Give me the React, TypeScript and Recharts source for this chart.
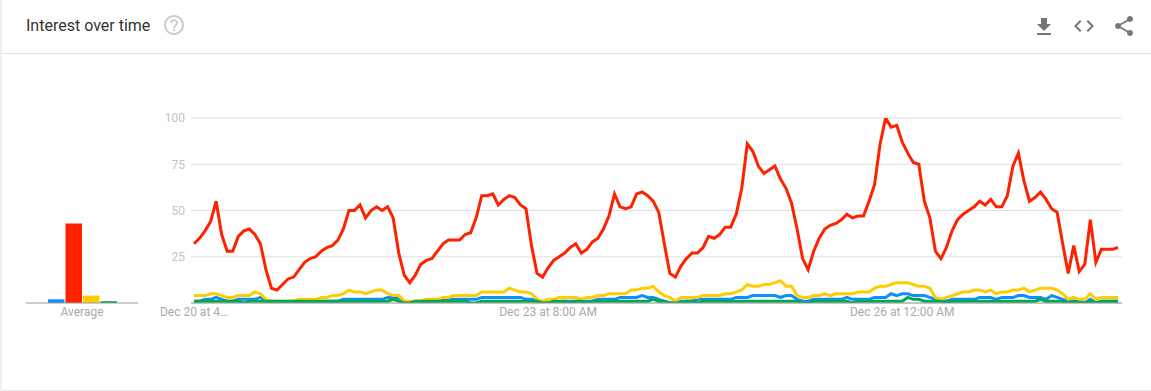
import { LineChart, Line, BarChart, Bar, XAxis, YAxis, CartesianGrid } from "recharts"

// hourly samples
const red = [
  32, 35, 39, 44, 55, 37, 28, 28, 36, 39,
  40, 37, 32, 18, 8, 7, 10, 13, 14, 18,
  22, 24, 25, 28, 30, 31, 34, 40, 50, 50,
  53, 46, 50, 52, 50, 52, 46, 27, 15, 11,
  15, 21, 23, 24, 28, 32, 34, 34, 34, 37,
  38, 46, 58, 58, 59, 53, 56, 58, 57, 53,
  51, 31, 16, 14, 19, 23, 25, 27, 30, 32,
  27, 29, 33, 35, 40, 47, 59, 52, 51, 52,
  59, 60, 58, 55, 49, 32, 16, 14, 20, 24,
  27, 27, 30, 36, 35, 37, 41, 41, 48, 62,
  86, 82, 74, 70, 72, 74, 67, 62, 54, 40,
  24, 18, 28, 35, 40, 42, 43, 45, 48, 46,
  47, 47, 55, 64, 86, 100, 95, 96, 87, 81,
  76, 75, 55, 46, 28, 24, 30, 39, 45, 48,
  50, 52, 55, 53, 56, 52, 52, 58, 74, 81,
  66, 55, 57, 60, 56, 51, 49, 32, 16, 31,
  17, 21, 45, 22, 29, 29, 29, 30,
]

const yellow = [
  4, 4, 4, 5, 5, 4, 3, 3, 4, 4,
  4, 6, 5, 2, 1, 1, 1, 1, 1, 2,
  2, 2, 2, 3, 3, 4, 4, 5, 7, 6,
  6, 5, 6, 7, 7, 5, 4, 4, 1, 1,
  1, 1, 2, 2, 2, 3, 3, 4, 4, 4,
  4, 4, 6, 6, 6, 6, 6, 8, 7, 6,
  6, 5, 2, 1, 2, 2, 3, 3, 3, 3,
  2, 3, 3, 4, 4, 5, 5, 5, 5, 7,
  7, 8, 8, 9, 6, 4, 3, 1, 3, 3,
  3, 3, 4, 4, 4, 4, 5, 5, 6, 7,
  10, 9, 9, 10, 10, 11, 12, 9, 9, 4,
  3, 3, 4, 4, 5, 4, 5, 5, 5, 5,
  6, 6, 6, 8, 9, 9, 10, 11, 11, 11,
  10, 9, 9, 8, 3, 2, 3, 4, 5, 6,
  6, 7, 7, 6, 7, 5, 6, 6, 7, 7,
  8, 6, 7, 8, 8, 8, 7, 5, 2, 3,
  2, 2, 5, 2, 3, 3, 3, 3,
]

const blue = [
  1, 1, 2, 2, 3, 2, 1, 1, 2, 2,
  2, 2, 3, 1, 1, 0, 0, 0, 0, 1,
  1, 1, 1, 1, 1, 1, 1, 2, 2, 2,
  2, 2, 2, 2, 2, 3, 3, 3, 0, 0,
  0, 0, 1, 1, 1, 2, 2, 2, 2, 2,
  2, 2, 3, 3, 3, 3, 3, 3, 3, 3,
  2, 2, 1, 1, 0, 0, 0, 1, 1, 1,
  1, 1, 1, 2, 2, 2, 2, 3, 3, 3,
  3, 4, 3, 3, 2, 1, 0, 0, 1, 1,
  1, 2, 2, 2, 2, 2, 2, 2, 3, 3,
  3, 4, 4, 4, 4, 4, 3, 4, 4, 2,
  1, 1, 2, 2, 2, 2, 2, 2, 3, 2,
  2, 2, 2, 3, 3, 3, 5, 4, 5, 5,
  4, 4, 4, 3, 2, 2, 1, 2, 2, 2,
  2, 2, 3, 3, 3, 2, 3, 3, 3, 4,
  4, 3, 3, 3, 2, 4, 3, 2, 1, 1,
  1, 0, 2, 0, 1, 1, 1, 1,
]

const green = [
  1, 1, 1, 1, 1, 1, 1, 1, 1, 0,
  1, 1, 1, 1, 1, 1, 1, 1, 1, 1,
  1, 1, 1, 1, 1, 1, 1, 1, 1, 1,
  1, 1, 1, 1, 1, 1, 2, 1, 0, 0,
  1, 1, 1, 1, 1, 1, 1, 1, 1, 1,
  0, 0, 1, 1, 1, 1, 1, 1, 1, 1,
  1, 1, 1, 0, 0, 1, 1, 1, 0, 1,
  1, 0, 1, 1, 1, 1, 1, 1, 1, 1,
  1, 1, 1, 2, 1, 1, 0, 0, 0, 1,
  1, 0, 1, 1, 1, 1, 1, 1, 1, 1,
  1, 1, 1, 1, 1, 1, 1, 1, 1, 1,
  0, 0, 1, 1, 1, 1, 1, 1, 1, 0,
  1, 1, 1, 1, 1, 1, 1, 1, 1, 3,
  2, 2, 1, 1, 1, 1, 0, 1, 1, 1,
  1, 1, 1, 1, 1, 1, 1, 1, 1, 1,
  1, 1, 1, 2, 1, 1, 1, 1, 0, 1,
  0, 0, 1, 0, 1, 1, 1, 1,
]

const yTicks = [0, 25, 50, 75, 100]
const xTickIndexes = [0, 64, 128]
const xTickLabels = ["Dec 20 at 4…", "Dec 23 at 8:00 AM", "Dec 26 at 12:00 AM"]

const averageLabel = ["Average"]
const averageBlue = [2]
const averageRed = [43]
const averageYellow = [4]
const averageGreen = [1]

const BLUE = "#0f8fff"
const RED = "#ff2200"
const YELLOW = "#ffcc00"
const GREEN = "#00a84f"
const FONT = "Roboto, sans-serif"

const rows = red.map((v, i) => ({ hour: i, red: v, yellow: yellow[i], blue: blue[i], green: green[i] }))
const averages = averageLabel.map((name, i) => ({
  name,
  blue: averageBlue[i],
  red: averageRed[i],
  yellow: averageYellow[i],
  green: averageGreen[i],
}))

function Icon({ d, left, top, fill }: { d: string; left: number; top: number; fill: string }) {
  return (
    <svg width={24} height={24} viewBox="0 0 24 24" style={{ position: "absolute", left, top }}>
      <path d={d} fill={fill} />
    </svg>
  )
}

export default function App() {
  return (
    <div style={{ position: "absolute", left: 0, top: 0, width: 1151, height: 391, background: "#fff", overflow: "hidden", fontFamily: FONT }}>
      {/* card edges */}
      <div style={{ position: "absolute", left: 0, top: 0, width: 2, height: 391, background: "#f0f0f0" }} />
      <div style={{ position: "absolute", left: 2, top: 390, width: 1149, height: 1, background: "#e6e6e6" }} />
      <div style={{ position: "absolute", left: 2, top: 53, width: 1149, height: 1, background: "#e0e0e0" }} />

      <div style={{ position: "absolute", left: 26, top: 16, fontSize: 16, lineHeight: "20px", color: "#333" }}>
        Interest over time
      </div>
      <Icon left={162} top={13} fill="#ccc" d="M11 18h2v-2h-2v2zm1-16C6.48 2 2 6.48 2 12s4.48 10 10 10 10-4.48 10-10S17.52 2 12 2zm0 18c-4.41 0-8-3.59-8-8s3.59-8 8-8 8 3.59 8 8-3.59 8-8 8zm0-14c-2.21 0-4 1.79-4 4h2c0-1.1.9-2 2-2s2 .9 2 2c0 2-3 1.75-3 5h2c0-2.25 3-2.5 3-5 0-2.21-1.79-4-4-4z" />
      <Icon left={1032} top={15} fill="#757575" d="M19 9h-4V3H9v6H5l7 7 7-7zM5 18v2h14v-2H5z" />
      <Icon left={1072} top={14} fill="#757575" d="M9.4 16.6L4.8 12l4.6-4.6L8 6l-6 6 6 6 1.4-1.4zm5.2 0l4.6-4.6-4.6-4.6L16 6l6 6-6 6-1.4-1.4z" />
      <Icon left={1112} top={14} fill="#757575" d="M18 16.08c-.76 0-1.44.3-1.96.77L8.91 12.7c.05-.23.09-.46.09-.7s-.04-.47-.09-.7l7.05-4.11c.54.5 1.25.81 2.04.81 1.66 0 3-1.34 3-3s-1.34-3-3-3-3 1.34-3 3c0 .24.04.47.09.7L8.04 9.81C7.5 9.31 6.79 9 6 9c-1.66 0-3 1.34-3 3s1.34 3 3 3c.79 0 1.5-.31 2.04-.81l7.12 4.16c-.05.21-.08.43-.08.65 0 1.61 1.31 2.92 2.92 2.92 1.61 0 2.92-1.31 2.92-2.92s-1.31-2.92-2.92-2.92z" />

      {/* average bars */}
      <div style={{ position: "absolute", left: 0, top: 100 }}>
        <BarChart
          width={160}
          height={240}
          data={averages}
          margin={{ top: 18, right: 22, bottom: 7, left: 26 }}
          barSize={16.5}
          barGap={1}
        >
          <XAxis
            dataKey="name"
            height={30}
            tick={{ fill: "#aaa", fontSize: 12, fontFamily: FONT, dy: -2 }}
            axisLine={{ stroke: "#999" }}
            tickLine={false}
            tickMargin={0}
          />
          <YAxis hide domain={[0, 100]} />
          <Bar dataKey="blue" fill={BLUE} isAnimationActive={false} />
          <Bar dataKey="red" fill={RED} isAnimationActive={false} />
          <Bar dataKey="yellow" fill={YELLOW} isAnimationActive={false} />
          <Bar dataKey="green" fill={GREEN} isAnimationActive={false} />
        </BarChart>
      </div>

      {/* interest over time */}
      <div style={{ position: "absolute", left: 140, top: 100 }}>
        <LineChart width={1011} height={240} data={rows} margin={{ top: 18, right: 29, bottom: 7, left: 0 }}>
          <CartesianGrid vertical={false} stroke="#e0e0e0" />
          <XAxis
            dataKey="hour"
            type="number"
            domain={[0, 167]}
            height={30}
            ticks={xTickIndexes}
            tickFormatter={(v: number) => xTickLabels[xTickIndexes.indexOf(v)]}
            interval={0}
            padding={{ left: 3, right: 4 }}
            tick={{ fill: "#aaa", fontSize: 12, fontFamily: FONT, dy: -2 }}
            axisLine={{ stroke: "#999" }}
            tickLine={false}
            tickMargin={0}
          />
          <YAxis
            width={51}
            domain={[0, 100]}
            allowDataOverflow
            ticks={yTicks}
            tickFormatter={(v: number) => (v === 0 ? "" : String(v))}
            tick={{ fill: "#c4c4c4", fontSize: 12, fontFamily: FONT }}
            axisLine={false}
            tickLine={false}
            tickMargin={0}
          />
          <Line dataKey="blue" type="linear" stroke={BLUE} strokeWidth={3} dot={false} isAnimationActive={false} />
          <Line dataKey="red" type="linear" stroke={RED} strokeWidth={3} dot={false} isAnimationActive={false} />
          <Line dataKey="yellow" type="linear" stroke={YELLOW} strokeWidth={3} dot={false} isAnimationActive={false} />
          <Line dataKey="green" type="linear" stroke={GREEN} strokeWidth={3} dot={false} isAnimationActive={false} />
        </LineChart>
      </div>
    </div>
  )
}
